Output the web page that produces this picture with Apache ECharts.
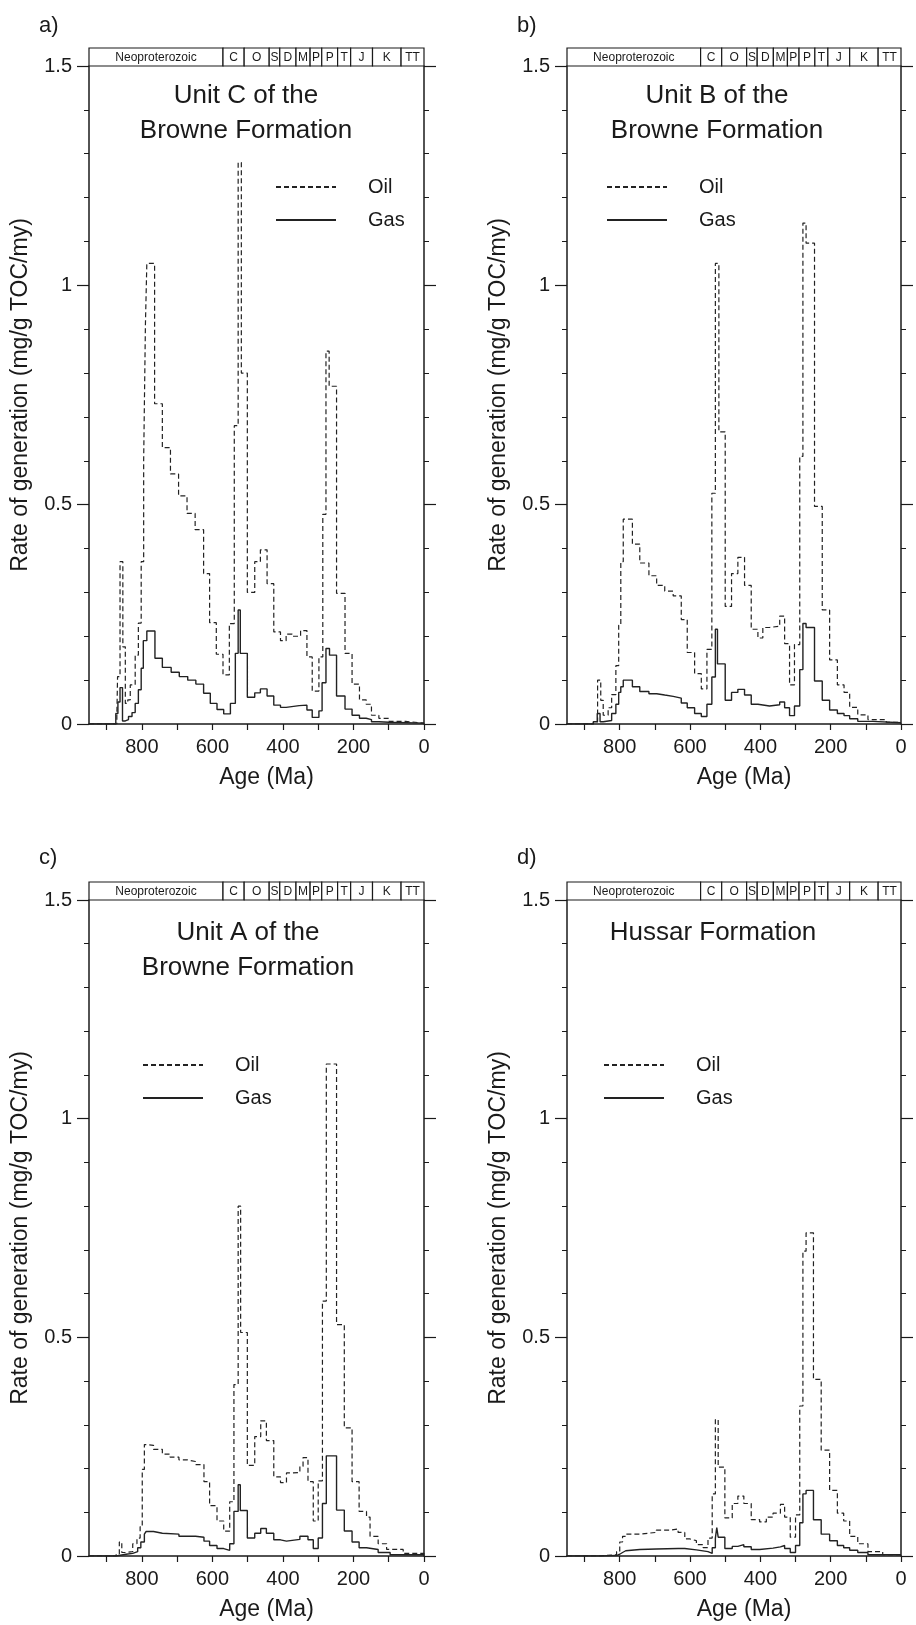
<!DOCTYPE html>
<html>
<head>
<meta charset="utf-8">
<script src="https://cdn.jsdelivr.net/npm/echarts@6/dist/echarts.min.js"></script>
<style>
html,body{margin:0;padding:0;background:#fff;}
#chart{width:916px;height:1625px;}
</style>
</head>
<body>
<div id="chart"></div>
<script>
// ---------- data ----------
const periodNames = ['Neoproterozoic','C','O','S','D','M','P','P','T','J','K','TT'];
const periodBounds = [950,570,510,439,409,363,323,290,245,208,146,65,0];
const xTickValues = [0,100,200,300,400,500,600,700,800,900];
const xLabelValues = [0,200,400,600,800];
const seriesNames = ['Oil','Gas'];

const oilA = [[950,0],[871,0.02],[869,0.108],[862,0.37],[854,0.176],[847,0.047],[840,0.055],[833,0.089],[819,0.157],[810,0.23],[802,0.37],[795,0.6],[790,0.91],[786,1.05],[764,0.73],[742,0.63],[719,0.57],[696,0.52],[672,0.48],[649,0.443],[625,0.343],[608,0.231],[589,0.159],[570,0.112],[552,0.229],[538,0.68],[527,1.28],[518,0.80],[501,0.30],[480,0.37],[464,0.397],[445,0.32],[426,0.21],[407,0.19],[391,0.205],[374,0.2],[350,0.213],[332,0.153],[317,0.075],[298,0.153],[287,0.478],[278,0.85],[269,0.77],[248,0.298],[224,0.161],[204,0.091],[183,0.055],[164,0.045],[149,0.02],[128,0.013],[99,0.006],[52,0.002],[0,0.002]];
const gasA = [[950,0],[874,0.024],[868,0.05],[862,0.083],[855,0.007],[847,0.01],[838,0.017],[828,0.026],[819,0.047],[810,0.078],[802,0.127],[796,0.19],[786,0.212],[763,0.15],[742,0.129],[717,0.118],[694,0.108],[670,0.1],[647,0.091],[625,0.07],[606,0.047],[587,0.033],[568,0.023],[549,0.047],[535,0.161],[527,0.26],[521,0.161],[501,0.061],[480,0.071],[464,0.08],[445,0.064],[426,0.043],[407,0.038],[391,0.042],[354,0.043],[332,0.032],[317,0.015],[298,0.03],[289,0.094],[278,0.172],[268,0.157],[248,0.064],[224,0.034],[204,0.02],[183,0.013],[164,0.01],[149,0.005],[128,0.004],[99,0.002],[0,0.002]];

const oilB = [[950,0],[875,0.005],[863,0.10],[854,0.054],[847,0.02],[833,0.037],[823,0.067],[811,0.133],[803,0.225],[797,0.37],[790,0.467],[764,0.41],[743,0.367],[717,0.338],[695,0.316],[672,0.303],[648,0.292],[625,0.238],[608,0.163],[587,0.115],[568,0.08],[552,0.17],[538,0.526],[528,1.05],[518,0.666],[500,0.268],[482,0.343],[464,0.38],[445,0.316],[426,0.216],[407,0.196],[393,0.22],[374,0.223],[345,0.246],[331,0.183],[317,0.089],[303,0.181],[288,0.61],[279,1.142],[270,1.096],[246,0.496],[224,0.26],[203,0.146],[181,0.089],[162,0.072],[146,0.038],[123,0.021],[94,0.01],[42,0.004],[0,0.003]];
const gasB = [[950,0],[875,0.005],[864,0.024],[856,0.005],[847,0.008],[823,0.024],[811,0.045],[803,0.072],[797,0.085],[790,0.1],[764,0.085],[743,0.074],[717,0.069],[695,0.066],[672,0.063],[648,0.059],[625,0.048],[608,0.037],[587,0.024],[568,0.017],[552,0.045],[538,0.107],[528,0.216],[522,0.137],[500,0.054],[482,0.072],[464,0.079],[445,0.066],[426,0.045],[407,0.041],[374,0.044],[345,0.05],[331,0.037],[317,0.019],[303,0.041],[288,0.124],[279,0.229],[270,0.22],[246,0.098],[224,0.054],[203,0.032],[181,0.024],[162,0.019],[146,0.012],[123,0.006],[80,0.003],[0,0.002]];

const oilC = [[950,0],[873,0.005],[864,0.032],[857,0.008],[845,0.01],[826,0.028],[814,0.041],[805,0.067],[799,0.198],[793,0.255],[788,0.253],[767,0.244],[742,0.233],[720,0.226],[695,0.22],[672,0.216],[648,0.209],[624,0.17],[608,0.115],[587,0.08],[568,0.057],[551,0.124],[539,0.392],[527,0.80],[520,0.511],[501,0.207],[480,0.273],[463,0.309],[447,0.264],[426,0.181],[407,0.168],[390,0.19],[371,0.191],[352,0.205],[343,0.225],[329,0.17],[314,0.08],[300,0.172],[288,0.583],[277,1.125],[248,0.529],[226,0.293],[204,0.17],[184,0.102],[163,0.089],[153,0.045],[130,0.028],[106,0.015],[59,0.006],[0,0.003]];
const gasC = [[950,0],[873,0.004],[845,0.006],[826,0.01],[812,0.019],[803,0.032],[793,0.05],[788,0.056],[767,0.052],[742,0.05],[695,0.045],[648,0.043],[624,0.034],[608,0.024],[587,0.017],[568,0.013],[551,0.028],[539,0.102],[527,0.163],[521,0.104],[501,0.041],[480,0.052],[463,0.063],[447,0.052],[426,0.037],[407,0.034],[390,0.038],[352,0.045],[329,0.037],[314,0.017],[300,0.041],[288,0.12],[277,0.229],[248,0.105],[226,0.057],[204,0.032],[184,0.019],[163,0.015],[130,0.008],[96,0.003],[0,0.002]];

const oilD = [[950,0],[857,0.003],[809,0.01],[800,0.032],[792,0.045],[783,0.05],[743,0.054],[696,0.059],[658,0.062],[634,0.054],[615,0.039],[601,0.035],[582,0.026],[563,0.019],[549,0.041],[537,0.142],[528,0.312],[520,0.203],[501,0.087],[480,0.12],[464,0.137],[447,0.12],[426,0.083],[402,0.078],[383,0.089],[364,0.098],[343,0.118],[331,0.089],[315,0.043],[300,0.094],[288,0.343],[279,0.697],[270,0.739],[249,0.404],[227,0.242],[203,0.15],[181,0.098],[163,0.08],[146,0.045],[123,0.028],[94,0.01],[52,0.003],[0,0.002]];
const gasD = [[950,0],[857,0.001],[809,0.004],[800,0.008],[792,0.012],[783,0.015],[743,0.016],[696,0.017],[634,0.017],[615,0.014],[582,0.01],[549,0.006],[537,0.019],[528,0.041],[524,0.065],[520,0.043],[501,0.017],[480,0.022],[464,0.026],[447,0.021],[426,0.015],[402,0.018],[364,0.021],[343,0.024],[331,0.017],[315,0.008],[300,0.024],[288,0.076],[279,0.142],[270,0.15],[249,0.083],[227,0.05],[203,0.035],[181,0.024],[163,0.019],[146,0.013],[123,0.008],[94,0.003],[0,0.002]];

const panelLetters = ['a)','b)','c)','d)'];
const panelTitles = ['Unit C of the\nBrowne Formation','Unit B of the\nBrowne Formation','Unit A of the\nBrowne Formation','Hussar Formation'];
const xAxisName = 'Age (Ma)';
const yAxisName = 'Rate of generation (mg/g TOC/my)';

// ---------- layout ----------
const FONT = "'Liberation Sans', Arial, Helvetica, sans-serif";
const INK = '#1a1a1a';
const layout = [
  {left:89, top:66, width:335, height:658, titleX:241, titleY:73, letterX:34, letterY:9, legX:270, legY:172},
  {left:567, top:66, width:334, height:658, titleX:712, titleY:73, letterX:512, letterY:9, legX:601, legY:172},
  {left:89, top:900, width:335, height:656, titleX:243, titleY:910, letterX:34, letterY:841, legX:137, legY:1050},
  {left:567, top:900, width:334, height:656, titleX:708, titleY:910, letterX:512, letterY:841, legX:598, legY:1050}
];
const oilData = [oilA, oilB, oilC, oilD];
const gasData = [gasA, gasB, gasC, gasD];

const periodCells = periodNames.map((n, i) => [periodBounds[i], periodBounds[i+1], 0]);

const grid = [], xAxis = [], yAxis = [], series = [], title = [], legend = [];
layout.forEach((L, p) => {
  const gMain = grid.length;
  grid.push({left:L.left, top:L.top, width:L.width, height:L.height, containLabel:false});
  const gHead = grid.length;
  grid.push({left:L.left, top:L.top - 18, width:L.width, height:18, containLabel:false});

  const xMain = xAxis.length;
  xAxis.push({
    gridIndex:gMain, type:'value', inverse:true, min:0, max:periodBounds[0],
    axisLine:{show:true, onZero:false, lineStyle:{color:INK, width:1.5}},
    axisTick:{show:true, customValues:xTickValues, length:6, lineStyle:{color:INK, width:1.2}},
    axisLabel:{show:true, customValues:xLabelValues, fontSize:20, color:INK, margin:13, fontFamily:FONT},
    splitLine:{show:false},
    name:xAxisName, nameLocation:'middle', nameGap:42,
    nameTextStyle:{fontSize:23, color:INK, fontFamily:FONT, padding:[0,0,0,20]}
  });
  const xHead = xAxis.length;
  xAxis.push({gridIndex:gHead, type:'value', inverse:true, min:0, max:periodBounds[0], show:false});

  const yLeft = yAxis.length;
  const yCommon = {
    gridIndex:gMain, type:'value', min:0, max:1.5, interval:0.5,
    axisLine:{show:true, onZero:false, lineStyle:{color:INK, width:1.5}},
    axisTick:{show:true, length:12, lineStyle:{color:INK, width:1.2}},
    minorTick:{show:true, splitNumber:5, length:5, lineStyle:{color:INK, width:1}},
    splitLine:{show:false}, minorSplitLine:{show:false}
  };
  yAxis.push(Object.assign({}, yCommon, {
    position:'left',
    axisLabel:{show:true, fontSize:20, color:INK, margin:17, fontFamily:FONT},
    name:yAxisName, nameLocation:'middle', nameGap:57, nameRotate:90,
    nameTextStyle:{fontSize:23, color:INK, fontFamily:FONT}
  }));
  yAxis.push(Object.assign({}, yCommon, {position:'right', axisLabel:{show:false}}));
  const yHead = yAxis.length;
  yAxis.push({gridIndex:gHead, type:'value', min:0, max:1, show:false});

  series.push({
    name:seriesNames[0], type:'line', xAxisIndex:xMain, yAxisIndex:yLeft,
    data:oilData[p], step:'end', symbol:'none', animation:false,
    lineStyle:{color:'#222', width:1.2, type:[5,3]}, itemStyle:{color:'#222'}
  });
  series.push({
    name:seriesNames[1], type:'line', xAxisIndex:xMain, yAxisIndex:yLeft,
    data:gasData[p], step:'end', symbol:'none', animation:false,
    lineStyle:{color:'#222', width:1.4, type:'solid'}, itemStyle:{color:'#222'}
  });
  series.push({
    type:'custom', xAxisIndex:xHead, yAxisIndex:yHead, data:periodCells, animation:false, silent:true,
    encode:{x:[0,1], y:2},
    renderItem:function(params, api){
      const a = api.coord([api.value(0), 1]);
      const b = api.coord([api.value(1), 0]);
      return {type:'group', children:[
        {type:'rect', shape:{x:a[0], y:a[1], width:b[0]-a[0], height:b[1]-a[1]},
         style:{fill:'#fff', stroke:INK, lineWidth:1.2}},
        {type:'text', style:{text:periodNames[params.dataIndex], x:(a[0]+b[0])/2, y:(a[1]+b[1])/2 + 0.5,
          align:'center', verticalAlign:'middle', fontSize:12, fill:INK, fontFamily:FONT}}
      ]};
    }
  });

  title.push({text:panelTitles[p], left:L.titleX, top:L.titleY, textAlign:'center',
    textStyle:{fontSize:26, fontWeight:'normal', color:INK, lineHeight:35, fontFamily:FONT}});
  title.push({text:panelLetters[p], left:L.letterX, top:L.letterY,
    textStyle:{fontSize:22, fontWeight:'normal', color:INK, lineHeight:24, fontFamily:FONT}});

  legend.push({
    left:L.legX, top:L.legY, orient:'vertical', itemWidth:60, itemHeight:14, itemGap:13,
    selectedMode:false, data:seriesNames,
    itemStyle:{opacity:0, borderWidth:0},
    textStyle:{fontSize:20, color:INK, lineHeight:20, fontFamily:FONT, padding:[0,0,0,27]}
  });
});

const chart = echarts.init(document.getElementById('chart'), null, {renderer:'canvas'});
chart.setOption({
  backgroundColor:'#fff', animation:false,
  grid, xAxis, yAxis, series, title, legend
});
</script>
</body>
</html>
